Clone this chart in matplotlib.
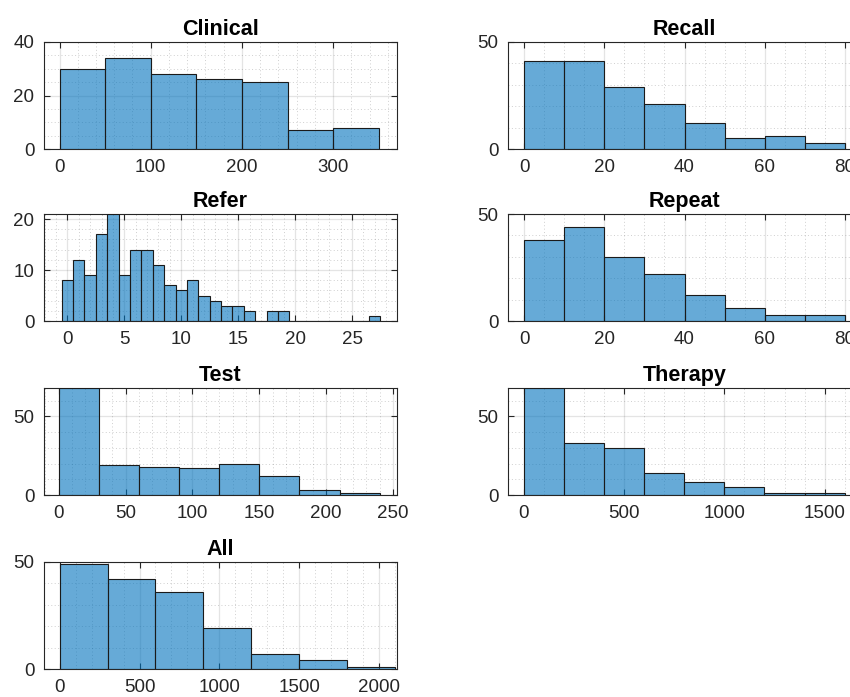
import numpy as np
import matplotlib.pyplot as plt
from matplotlib.ticker import MultipleLocator

plt.rcParams['font.family'] = ['Liberation Sans', 'DejaVu Sans']

# histogram counts and bin edges
clinical_edges = np.arange(0, 351, 50)
clinical_counts = [30, 34, 28, 26, 25, 7, 8]

recall_edges = np.arange(0, 81, 10)
recall_counts = [41, 41, 29, 21, 12, 5, 6, 3]

refer_edges = np.arange(-0.5, 28, 1)
refer_counts = [8, 12, 9, 17, 21, 9, 14, 14, 11, 7, 6, 8, 5, 4, 3, 3, 2, 0,
                2, 2, 0, 0, 0, 0, 0, 0, 0, 1]

repeat_edges = np.arange(0, 81, 10)
repeat_counts = [38, 44, 30, 22, 12, 6, 3, 3]

test_edges = np.arange(0, 241, 30)
test_counts = [68, 19, 18, 17, 20, 12, 3, 1]

therapy_edges = np.arange(0, 1601, 200)
therapy_counts = [68, 33, 30, 14, 8, 5, 1, 1]

all_edges = np.arange(0, 2101, 300)
all_counts = [49, 42, 36, 19, 7, 4, 1]

titles = ['Clinical', 'Recall', 'Refer', 'Repeat', 'Test', 'Therapy', 'All']
edges = [clinical_edges, recall_edges, refer_edges, repeat_edges,
         test_edges, therapy_edges, all_edges]
counts = [clinical_counts, recall_counts, refer_counts, repeat_counts,
          test_counts, therapy_counts, all_counts]

# axis settings per panel: xlim, ylim, x major/minor, y major/minor
xlims = [(-17, 370), (-4, 84), (-2.05, 28.95), (-4, 84),
         (-11, 253), (-78, 1681), (-98, 2112)]
ylims = [(0, 40), (0, 50), (0, 21), (0, 50), (0, 68), (0, 68), (0, 50)]
xmaj = [100, 20, 5, 20, 50, 500, 500]
xmin = [20, 5, 1, 5, 10, 100, 100]
ymaj = [20, 50, 10, 50, 50, 50, 50]
ymin = [5, 10, 2, 10, 10, 10, 10]

W, H = 850, 697
lefts = [44, 508]
tops = [42, 214, 388, 562]
aw, ah = 353, 107

face = (0, 0.447, 0.741, 0.6)
axcol = (0.15, 0.15, 0.15)

fig = plt.figure(figsize=(8.5, 6.97), dpi=100)

for i, t in enumerate(titles):
    row, col = divmod(i, 2)
    ax = fig.add_axes([lefts[col] / W, 1 - (tops[row] + ah) / H, aw / W, ah / H])
    e = np.asarray(edges[i])
    ax.bar(e[:-1], counts[i], width=np.diff(e), align='edge',
           color=face, edgecolor=(0.1, 0.1, 0.1), linewidth=0.8, zorder=3)
    ax.set_xlim(*xlims[i])
    ax.set_ylim(*ylims[i])
    ax.xaxis.set_major_locator(MultipleLocator(xmaj[i]))
    ax.xaxis.set_minor_locator(MultipleLocator(xmin[i]))
    ax.yaxis.set_major_locator(MultipleLocator(ymaj[i]))
    ax.yaxis.set_minor_locator(MultipleLocator(ymin[i]))
    ax.grid(True, which='major', color=axcol, alpha=0.12, linewidth=0.9)
    ax.grid(True, which='minor', color=axcol, alpha=0.22, linestyle=(0, (1, 2.5)),
            linewidth=0.7)
    ax.set_axisbelow(True)
    ax.tick_params(which='major', direction='in', length=4, width=0.8,
                   top=True, right=True, labelsize=13.5, colors=axcol, pad=7)
    ax.tick_params(which='minor', length=0)
    for s in ax.spines.values():
        s.set_color(axcol)
        s.set_linewidth(0.8)
    ax.set_title(t, fontsize=15.5, fontweight='bold', pad=5)

fig.savefig('out.png', dpi=100)
